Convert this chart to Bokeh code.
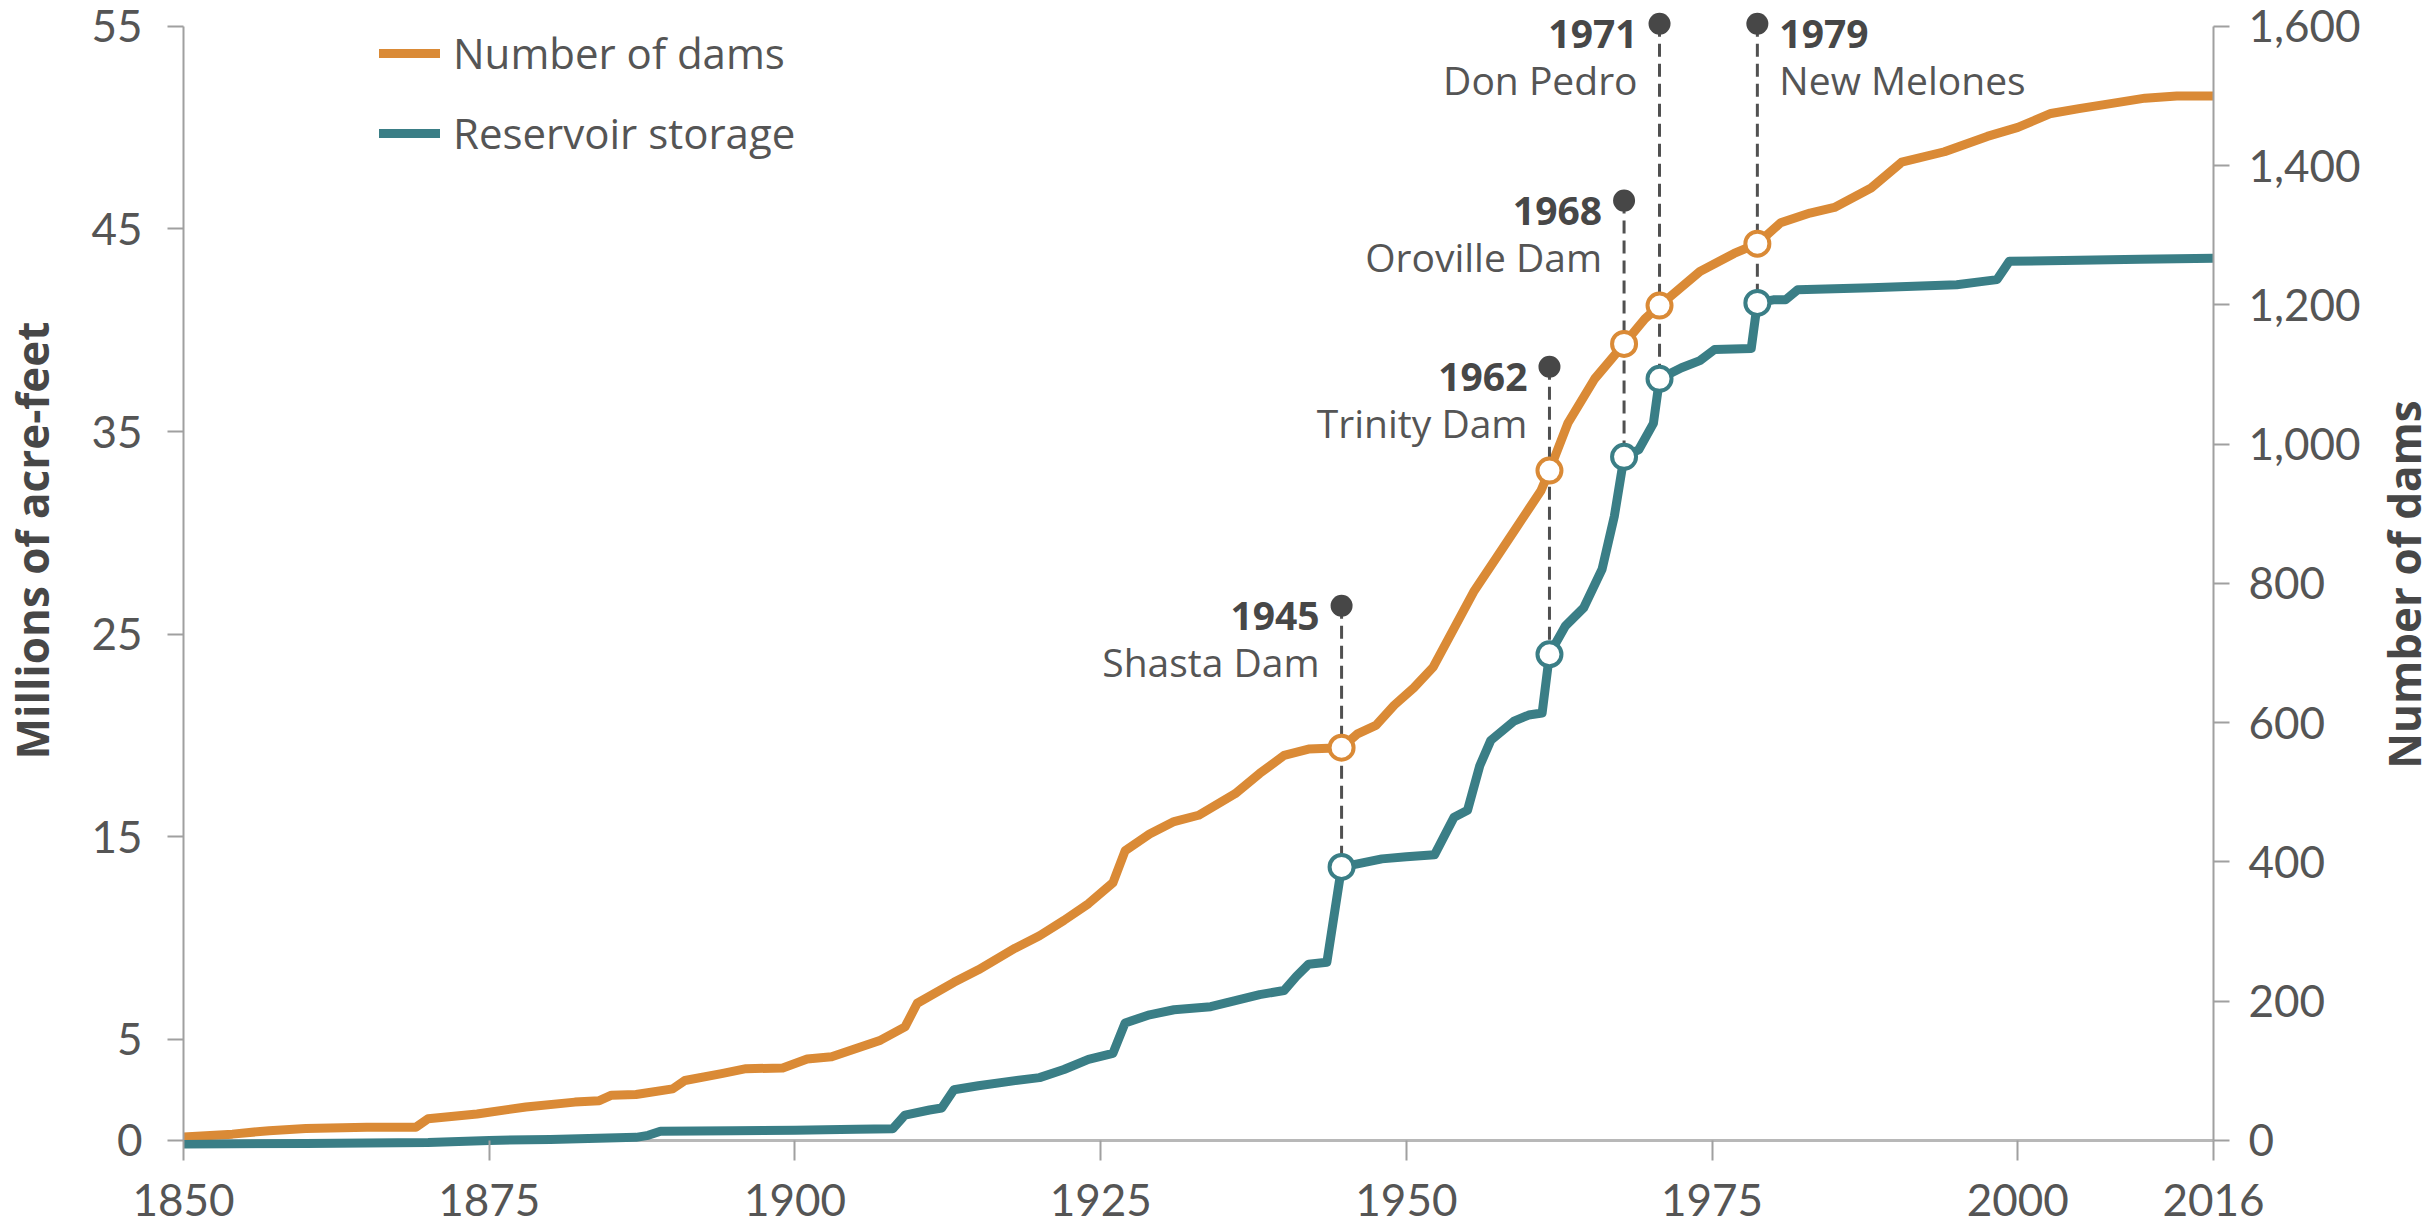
import math
from bokeh.plotting import figure
from bokeh.models import (Range1d, LinearAxis, FixedTicker, NumeralTickFormatter,
                          ColumnDataSource, Span, Legend, LegendItem, Label)
from bokeh.core.properties import value
from bokeh.embed import file_html
from bokeh.resources import INLINE

# ---------------- data ----------------
dam_years = [1850, 1854, 1857, 1860, 1865, 1869, 1870, 1874, 1878, 1882,
             1884, 1885, 1887, 1890, 1891, 1894, 1896, 1899, 1901, 1903,
             1907, 1909, 1910, 1913, 1915, 1918, 1920, 1922, 1924, 1926,
             1927, 1929, 1931, 1933, 1936, 1938, 1940, 1942, 1944.7, 1946,
             1947.5, 1949, 1950.6, 1952.2, 1955.5, 1957.4, 1958.8, 1961, 1961.7, 1963.2,
             1965.4, 1966.8, 1967.8, 1969.5, 1970.7, 1974, 1976.8, 1978.7, 1980.6, 1983,
             1985, 1988, 1990.5, 1994, 1997.5, 2000, 2002.7, 2005, 2007.2, 2010.4,
             2013, 2016]
dam_counts = [5, 9, 14, 17, 19, 19, 31, 38, 48, 55,
              57, 65, 66, 74, 86, 96, 103, 104, 117, 120,
              144, 163, 197, 227, 245, 276, 294, 316, 340, 370,
              416, 440, 458, 467, 498, 527, 553, 562, 564, 584,
              596, 625, 650, 680, 788, 838, 875, 933, 962, 1030,
              1094, 1123, 1144, 1180, 1199, 1248, 1274, 1288, 1318, 1332,
              1340, 1368, 1405, 1420, 1442, 1455, 1475, 1482, 1488, 1497,
              1500, 1500]

storage_years = [1850, 1860, 1870, 1875, 1880, 1887, 1888, 1889, 1895, 1900,
                 1905, 1908, 1909, 1911, 1912, 1913, 1915, 1918, 1920, 1922,
                 1924, 1926, 1927, 1929, 1931, 1934, 1936, 1938, 1940, 1941,
                 1942, 1943.5, 1944.7, 1946, 1948, 1950, 1952.3, 1953.9, 1955, 1956,
                 1956.9, 1958.8, 1960, 1961.1, 1961.7, 1963, 1964.5, 1966, 1967, 1967.8,
                 1969, 1970.2, 1970.7, 1972.5, 1974, 1975.2, 1978.2, 1978.7, 1980, 1981,
                 1982, 1988, 1995, 1997, 1998.3, 1999.3, 2005, 2010, 2016]
storage_maf = [-0.2, -0.15, -0.1, 0.0, 0.05, 0.15, 0.25, 0.45, 0.48, 0.5,
               0.55, 0.58, 1.25, 1.5, 1.6, 2.5, 2.7, 2.95, 3.1, 3.5,
               4.0, 4.3, 5.8, 6.2, 6.45, 6.6, 6.9, 7.2, 7.4, 8.1,
               8.7, 8.8, 13.5, 13.65, 13.9, 14.0, 14.1, 15.96, 16.3, 18.5,
               19.75, 20.7, 21.0, 21.1, 24.0, 25.4, 26.3, 28.2, 30.8, 33.75,
               34.1, 35.4, 37.6, 38.15, 38.5, 39.05, 39.1, 41.35, 41.5, 41.5,
               42.0, 42.1, 42.25, 42.4, 42.5, 43.4, 43.45, 43.5, 43.55]

event_years = ["1945", "1962", "1968", "1971", "1979"]
event_names = ["Shasta Dam", "Trinity Dam", "Oroville Dam", "Don Pedro", "New Melones"]
event_x = [1944.7, 1961.7, 1967.8, 1970.7, 1978.7]
event_top = [26.4, 38.2, 46.4, 55.13, 55.13]
event_dams = [564, 962, 1144, 1199, 1288]
event_storage = [13.5, 24.0, 33.75, 37.6, 41.35]
event_side = ["left", "left", "left", "left", "right"]

left_ticks = [0, 5, 15, 25, 35, 45, 55]
right_ticks = [0, 200, 400, 600, 800, 1000, 1200, 1400, 1600]
x_ticks = [1850, 1875, 1900, 1925, 1950, 1975, 2000, 2016]

series_labels = ["Number of dams", "Reservoir storage"]
axis_titles = ["Millions of acre-feet", "Number of dams"]

# ---------------- style / layout ----------------
ORANGE = "#DA8A36"
TEAL = "#3A7E86"
DARK = "#474747"
TICK_TXT = "#555555"
AXIS_GRAY = "#a0a0a0"
FONT = "Open Sans"
TICK_FONT = "Lato"
TICK_SIZE = "44px"

MAF_MAX = 55
DAMS_MAX = 1600
ratio = DAMS_MAX / MAF_MAX
y_lo, y_hi = -0.4, 56.28

p = figure(width=2435, height=1232,
           x_range=Range1d(1850, 2016), y_range=Range1d(y_lo, y_hi),
           output_backend="svg", toolbar_location=None,
           min_border_left=183, min_border_right=222,
           min_border_top=0, min_border_bottom=84)
p.extra_y_ranges = {"dams": Range1d(y_lo * ratio, y_hi * ratio)}
p.outline_line_color = None
p.grid.visible = False
p.background_fill_color = "white"
p.border_fill_color = "white"


def style_ticks(ax):
    ax.axis_line_color = AXIS_GRAY
    ax.axis_line_width = 2
    ax.major_tick_line_color = AXIS_GRAY
    ax.major_tick_line_width = 2
    ax.minor_tick_line_color = None
    ax.major_label_text_font = TICK_FONT
    ax.major_label_text_font_size = TICK_SIZE
    ax.major_label_text_color = TICK_TXT


# x axis
xa = p.xaxis[0]
style_ticks(xa)
xa.ticker = FixedTicker(ticks=x_ticks)
xa.formatter = NumeralTickFormatter(format="0")
xa.axis_line_color = None
xa.major_tick_in = 8
xa.major_tick_out = 12
xa.major_label_standoff = 23

# left axis
ya = p.yaxis[0]
style_ticks(ya)
ya.ticker = FixedTicker(ticks=left_ticks)
ya.bounds = (0, MAF_MAX)
ya.major_tick_in = 0
ya.major_tick_out = 16
ya.major_label_standoff = 25

# right axis
ra = LinearAxis(y_range_name="dams", ticker=FixedTicker(ticks=right_ticks),
                formatter=NumeralTickFormatter(format="0,0"), bounds=(0, DAMS_MAX))
style_ticks(ra)
ra.major_tick_in = 0
ra.major_tick_out = 16
ra.major_label_standoff = 19
p.add_layout(ra, "right")

# axis titles: rotated labels (read bottom-to-top) placed in the side panels
for txt, cx, cy, side in [(axis_titles[0], 31, 540, "left"),
                          (axis_titles[1], 2403, 584, "right")]:
    p.add_layout(Label(x=cx, y=cy, x_units="canvas", y_units="canvas", text=txt,
                       angle=math.pi / 2, text_align="center", text_baseline="middle",
                       text_font=FONT, text_font_size="44px", text_font_style="bold",
                       text_color=DARK), side)

# baseline at zero
p.add_layout(Span(location=0, dimension="width", line_color="#b8b8b8",
                  line_width=3, level="underlay"))

# series
r_dams = p.line(dam_years, dam_counts, y_range_name="dams", line_color=ORANGE,
                line_width=9, line_join="round", line_cap="round")
r_stor = p.line(storage_years, storage_maf, line_color=TEAL,
                line_width=9, line_join="round", line_cap="round")

# events
ev = ColumnDataSource(dict(
    x=event_x, top=event_top, dams=event_dams, stor=event_storage,
    year=event_years, name=event_names,
    align=["right" if s == "left" else "left" for s in event_side],
    xoff=[-22 if s == "left" else 22 for s in event_side],
))
p.segment(x0="x", y0="top", x1="x", y1="stor", source=ev,
          line_color="#505050", line_width=3, line_dash="13 7")
p.scatter(x="x", y="dams", source=ev, y_range_name="dams", size=24,
          fill_color="white", line_color=ORANGE, line_width=4)
p.scatter(x="x", y="stor", source=ev, size=24,
          fill_color="white", line_color=TEAL, line_width=4)
p.scatter(x="x", y="top", source=ev, size=22, fill_color=DARK, line_color=None)
p.text(x="x", y="top", text="year", source=ev, text_align="align",
       x_offset="xoff", y_offset=10, text_baseline="middle",
       text_font=value(FONT), text_font_style="bold", text_font_size="39px",
       text_color=DARK)
p.text(x="x", y="top", text="name", source=ev, text_align="align",
       x_offset="xoff", y_offset=56, text_baseline="middle",
       text_font=value(FONT), text_font_size="39px", text_color=TICK_TXT)

# legend
legend = Legend(items=[LegendItem(label=series_labels[0], renderers=[r_dams]),
                       LegendItem(label=series_labels[1], renderers=[r_stor])],
                location=(196, 987), orientation="vertical",
                glyph_width=61, glyph_height=30, label_height=30,
                spacing=23, padding=0, margin=0, label_standoff=13,
                border_line_color=None, background_fill_alpha=0,
                label_text_font=FONT, label_text_font_size="42px",
                label_text_color=TICK_TXT, label_text_baseline="middle")
p.add_layout(legend)

open("out.html", "w").write(file_html(p, INLINE))
